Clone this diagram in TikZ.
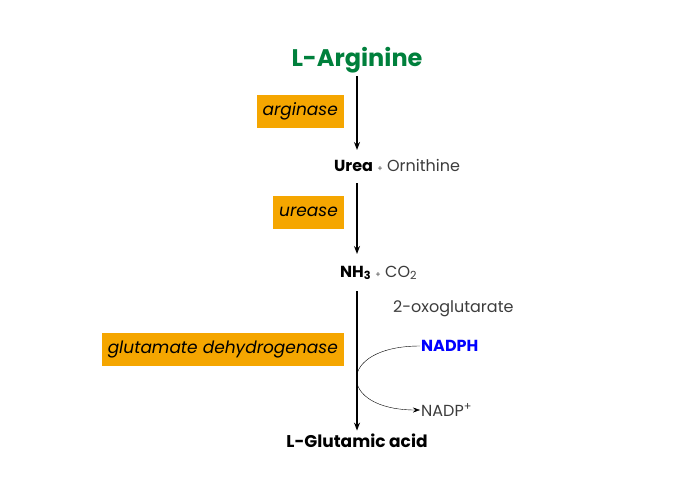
\documentclass[tikz,border=0pt]{standalone}
\usepackage{fontspec}
\setmainfont{Poppins}
\usetikzlibrary{positioning,arrows.meta}
\definecolor{enzorange}{RGB}{245,166,0}
\definecolor{substgreen}{RGB}{0,128,60}
\definecolor{txtgray}{RGB}{60,60,60}
\tikzstyle{enzyme} = [rectangle, fill=enzorange, anchor=east, minimum height=33pt, inner xsep=6pt, font=\fontsize{17}{20}\selectfont\itshape]
\tikzstyle{metab} = [inner sep=1pt, font=\fontsize{16}{19}\selectfont, text=txtgray]
\tikzstyle{rxnarrow} = [line width=1.4pt,-{Stealth[length=8pt,width=6pt]}]
\begin{document}
\begin{tikzpicture}[x=1pt, y=-1pt]
\useasboundingbox (0,0) rectangle (690,480);
% Substrates
\node[font=\fontsize{24}{28}\selectfont\bfseries, text=substgreen] (arg) at (357,60) {L-Arginine};
\node[metab, anchor=west] (urea) at (333,165) {\textbf{\color{black}Urea} {\footnotesize+} Ornithine};
\coordinate (ureatop) at (357,150);
\coordinate (ureabot) at (357,183);
\node[metab, anchor=west] (nh3) at (339,273) {\textbf{\color{black}NH\textsubscript{3}} {\footnotesize+} CO\textsubscript{2}};
\coordinate (nhtop) at (357,254);
\coordinate (nhbot) at (357,291);
\node[font=\fontsize{17}{20}\selectfont\bfseries] (glu) at (357,441) {L-Glutamic acid};

% Enzymes
\node[enzyme] (arginase) at (344,111) {arginase};
\node[enzyme] (urease) at (344,212) {urease};
\node[enzyme] (gdh) at (344,349) {glutamate dehydrogenase};

% Cofactors
\node[metab, anchor=west] (oxo) at (392,309) {2-oxoglutarate};
\node[metab, anchor=west, font=\fontsize{16}{19}\selectfont\bfseries, text=blue] (nadph) at (420,346) {NADPH};
\node[metab, anchor=west] (nadp) at (420,410) {NADP\textsuperscript{+}};

% Reaction arrows
\draw[rxnarrow] (arg) -- (ureatop);
\draw[rxnarrow] (ureabot) -- (nhtop);
\draw[rxnarrow] (nhbot) -- (glu);
\draw[-{Stealth[length=7pt,width=5pt]}] (nadph.west) .. controls (336,346) and (336,410) .. (nadp.west);
\end{tikzpicture}
\end{document}
